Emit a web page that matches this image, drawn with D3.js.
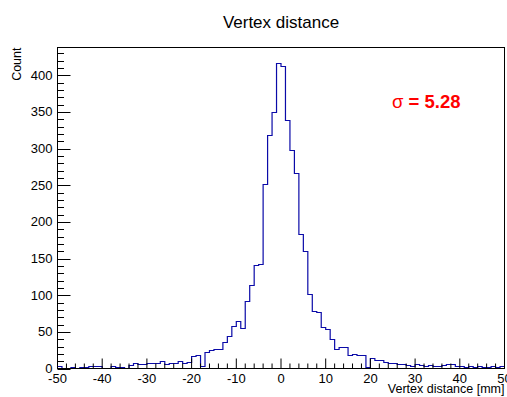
<!DOCTYPE html>
<html>
<head>
<meta charset="utf-8">
<script src="https://cdn.jsdelivr.net/npm/d3@7"></script>
<style>
  html, body { margin: 0; padding: 0; background: #fff; }
  svg { display: block; font-family: "Liberation Sans", Arial, Helvetica, sans-serif; }
</style>
</head>
<body>
<svg id="chart" width="507" height="397"></svg>
<script>
// Histogram of vertex distance, 1 mm bins from -50 to 50 mm
const binLowEdges = d3.range(-50, 50, 1);
const counts = [
  3, 1, 1, 2, 1, 2, 2, 3, 4, 4,          // -50 .. -41
  1, 1, 3, 2, 2, 1, 5, 8, 6, 6,          // -40 .. -31
  7, 7, 8, 10, 6, 8, 8, 10, 8, 9,        // -30 .. -21
  17, 18, 4, 22, 25, 26, 27, 36, 44, 58, // -20 .. -11
  65, 55, 92, 114, 141, 143, 251, 318, 350, 417, // -10 .. -1
  413, 339, 298, 266, 183, 160, 102, 78, 77, 56, // 0 .. 9
  54, 40, 27, 30, 30, 18, 20, 19, 19, 2, // 10 .. 19
  15, 12, 11, 9, 7, 8, 6, 6, 5, 3,       // 20 .. 29
  6, 5, 3, 5, 3, 3, 5, 6, 6, 3,          // 30 .. 39
  3, 2, 3, 2, 3, 2, 2, 3, 2, 3           // 40 .. 49
];
const sigmaSymbol = "σ";
const sigmaValue = " = 5.28";
const xTickValues = [-50, -40, -30, -20, -10, 0, 10, 20, 30, 40, 50];
const yTickValues = [0, 50, 100, 150, 200, 250, 300, 350, 400];

const svg = d3.select("#chart");
const plotLeft = 57.5, plotRight = 504.5, plotTop = 47.5, plotBottom = 368.5;

const x = d3.scaleLinear().domain([-50, 50]).range([plotLeft, plotRight]);
const yMax = 1.05 * d3.max(counts);
const y = d3.scaleLinear().domain([0, yMax]).range([plotBottom, plotTop]);

// Title
svg.append("text")
  .attr("x", (plotLeft + plotRight) / 2).attr("y", 28)
  .attr("text-anchor", "middle")
  .attr("font-size", 17)
  .attr("fill", "#000")
  .text("Vertex distance");

// Histogram outline as a step line
const stepPts = binLowEdges.map((lo, i) => [lo, counts[i]]);
stepPts.push([50, counts[counts.length - 1]]);
const line = d3.line()
  .x(d => x(d[0]))
  .y(d => Math.round(y(d[1])) + 0.5)
  .curve(d3.curveStepAfter);
svg.append("path")
  .attr("d", line(stepPts))
  .attr("fill", "none")
  .attr("stroke", "#0a0aa8")
  .attr("stroke-width", 1.2);

// Frame
svg.append("rect")
  .attr("x", plotLeft).attr("y", plotTop)
  .attr("width", plotRight - plotLeft).attr("height", plotBottom - plotTop)
  .attr("fill", "none").attr("stroke", "#000").attr("stroke-width", 1);

// X axis: ticks pointing inward
const xAxisG = svg.append("g").attr("transform", `translate(0,${plotBottom})`);
const xMinor = d3.range(-50, 50.001, 2);
xAxisG.selectAll("line").data(xMinor).join("line")
  .attr("x1", d => x(d)).attr("x2", d => x(d))
  .attr("y1", 0).attr("y2", d => (d % 10 === 0 ? -10 : -5))
  .attr("stroke", "#000").attr("stroke-width", 1);
xAxisG.selectAll("text").data(xTickValues).join("text")
  .attr("x", d => x(d)).attr("y", 14)
  .attr("text-anchor", "middle")
  .attr("font-size", 13)
  .text(d => String(d));

// Y axis: ticks pointing inward
const yAxisG = svg.append("g").attr("transform", `translate(${plotLeft},0)`);
const yMinor = d3.range(0, yMax, 10);
yAxisG.selectAll("line").data(yMinor).join("line")
  .attr("x1", 0).attr("x2", d => (d % 50 === 0 ? 13 : 6.5))
  .attr("y1", d => Math.round(y(d)) + 0.5).attr("y2", d => Math.round(y(d)) + 0.5)
  .attr("stroke", "#000").attr("stroke-width", 1);
yAxisG.selectAll("text").data(yTickValues).join("text")
  .attr("x", -5).attr("y", d => y(d) + 4.5)
  .attr("text-anchor", "end")
  .attr("font-size", 13)
  .text(d => d);

// Axis titles
svg.append("text")
  .attr("x", plotRight).attr("y", 393)
  .attr("text-anchor", "end")
  .attr("font-size", 12.5)
  .text("Vertex distance [mm]");
svg.append("text")
  .attr("transform", `translate(21,${plotTop}) rotate(-90)`)
  .attr("text-anchor", "end")
  .attr("font-size", 12.5)
  .text("Count");

// Width annotation
const sig = svg.append("text")
  .attr("x", 392).attr("y", 108)
  .attr("font-size", 18.5)
  .attr("fill", "#ff0000");
sig.append("tspan").text(sigmaSymbol);
sig.append("tspan").attr("font-weight", "bold").text(sigmaValue);
</script>
</body>
</html>
